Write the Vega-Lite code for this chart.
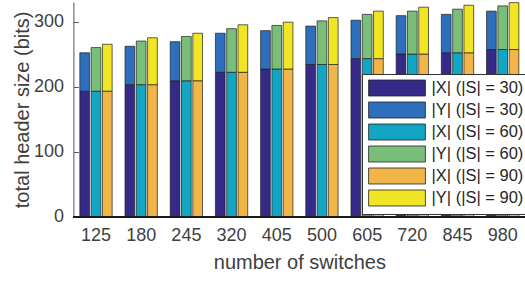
{
  "$schema": "https://vega.github.io/schema/vega-lite/v6.json",
  "autosize": "none",
  "width": 451.9,
  "height": 214.8,
  "padding": {"left": 73.4, "top": 2, "right": 0, "bottom": 65.2},
  "background": "white",
  "config": {"view": {"stroke": null}, "font": "Liberation Sans"},
  "data": {"values": [
    {"sw":125,"S":30,"part":0,"v":193,"series":"|X| (|S| = 30)"},{"sw":125,"S":30,"part":1,"v":59,"series":"|Y| (|S| = 30)"},
    {"sw":125,"S":60,"part":0,"v":193,"series":"|X| (|S| = 60)"},{"sw":125,"S":60,"part":1,"v":67,"series":"|Y| (|S| = 60)"},
    {"sw":125,"S":90,"part":0,"v":193,"series":"|X| (|S| = 90)"},{"sw":125,"S":90,"part":1,"v":72,"series":"|Y| (|S| = 90)"},
    {"sw":180,"S":30,"part":0,"v":203,"series":"|X| (|S| = 30)"},{"sw":180,"S":30,"part":1,"v":59,"series":"|Y| (|S| = 30)"},
    {"sw":180,"S":60,"part":0,"v":203,"series":"|X| (|S| = 60)"},{"sw":180,"S":60,"part":1,"v":67,"series":"|Y| (|S| = 60)"},
    {"sw":180,"S":90,"part":0,"v":203,"series":"|X| (|S| = 90)"},{"sw":180,"S":90,"part":1,"v":72,"series":"|Y| (|S| = 90)"},
    {"sw":245,"S":30,"part":0,"v":209,"series":"|X| (|S| = 30)"},{"sw":245,"S":30,"part":1,"v":60,"series":"|Y| (|S| = 30)"},
    {"sw":245,"S":60,"part":0,"v":209,"series":"|X| (|S| = 60)"},{"sw":245,"S":60,"part":1,"v":68,"series":"|Y| (|S| = 60)"},
    {"sw":245,"S":90,"part":0,"v":209,"series":"|X| (|S| = 90)"},{"sw":245,"S":90,"part":1,"v":73,"series":"|Y| (|S| = 90)"},
    {"sw":320,"S":30,"part":0,"v":222,"series":"|X| (|S| = 30)"},{"sw":320,"S":30,"part":1,"v":60,"series":"|Y| (|S| = 30)"},
    {"sw":320,"S":60,"part":0,"v":222,"series":"|X| (|S| = 60)"},{"sw":320,"S":60,"part":1,"v":67,"series":"|Y| (|S| = 60)"},
    {"sw":320,"S":90,"part":0,"v":222,"series":"|X| (|S| = 90)"},{"sw":320,"S":90,"part":1,"v":73,"series":"|Y| (|S| = 90)"},
    {"sw":405,"S":30,"part":0,"v":227,"series":"|X| (|S| = 30)"},{"sw":405,"S":30,"part":1,"v":59,"series":"|Y| (|S| = 30)"},
    {"sw":405,"S":60,"part":0,"v":227,"series":"|X| (|S| = 60)"},{"sw":405,"S":60,"part":1,"v":67,"series":"|Y| (|S| = 60)"},
    {"sw":405,"S":90,"part":0,"v":227,"series":"|X| (|S| = 90)"},{"sw":405,"S":90,"part":1,"v":72,"series":"|Y| (|S| = 90)"},
    {"sw":500,"S":30,"part":0,"v":234,"series":"|X| (|S| = 30)"},{"sw":500,"S":30,"part":1,"v":59,"series":"|Y| (|S| = 30)"},
    {"sw":500,"S":60,"part":0,"v":234,"series":"|X| (|S| = 60)"},{"sw":500,"S":60,"part":1,"v":67,"series":"|Y| (|S| = 60)"},
    {"sw":500,"S":90,"part":0,"v":234,"series":"|X| (|S| = 90)"},{"sw":500,"S":90,"part":1,"v":72,"series":"|Y| (|S| = 90)"},
    {"sw":605,"S":30,"part":0,"v":243,"series":"|X| (|S| = 30)"},{"sw":605,"S":30,"part":1,"v":59,"series":"|Y| (|S| = 30)"},
    {"sw":605,"S":60,"part":0,"v":243,"series":"|X| (|S| = 60)"},{"sw":605,"S":60,"part":1,"v":68,"series":"|Y| (|S| = 60)"},
    {"sw":605,"S":90,"part":0,"v":243,"series":"|X| (|S| = 90)"},{"sw":605,"S":90,"part":1,"v":73,"series":"|Y| (|S| = 90)"},
    {"sw":720,"S":30,"part":0,"v":250,"series":"|X| (|S| = 30)"},{"sw":720,"S":30,"part":1,"v":59,"series":"|Y| (|S| = 30)"},
    {"sw":720,"S":60,"part":0,"v":250,"series":"|X| (|S| = 60)"},{"sw":720,"S":60,"part":1,"v":66,"series":"|Y| (|S| = 60)"},
    {"sw":720,"S":90,"part":0,"v":250,"series":"|X| (|S| = 90)"},{"sw":720,"S":90,"part":1,"v":72,"series":"|Y| (|S| = 90)"},
    {"sw":845,"S":30,"part":0,"v":252,"series":"|X| (|S| = 30)"},{"sw":845,"S":30,"part":1,"v":59,"series":"|Y| (|S| = 30)"},
    {"sw":845,"S":60,"part":0,"v":252,"series":"|X| (|S| = 60)"},{"sw":845,"S":60,"part":1,"v":67,"series":"|Y| (|S| = 60)"},
    {"sw":845,"S":90,"part":0,"v":252,"series":"|X| (|S| = 90)"},{"sw":845,"S":90,"part":1,"v":73,"series":"|Y| (|S| = 90)"},
    {"sw":980,"S":30,"part":0,"v":257,"series":"|X| (|S| = 30)"},{"sw":980,"S":30,"part":1,"v":59,"series":"|Y| (|S| = 30)"},
    {"sw":980,"S":60,"part":0,"v":257,"series":"|X| (|S| = 60)"},{"sw":980,"S":60,"part":1,"v":67,"series":"|Y| (|S| = 60)"},
    {"sw":980,"S":90,"part":0,"v":257,"series":"|X| (|S| = 90)"},{"sw":980,"S":90,"part":1,"v":72,"series":"|Y| (|S| = 90)"}
  ]},
  "layer": [
    {
      "mark": {"type": "bar", "stroke": "#1e1e1e", "strokeWidth": 0.7},
      "encoding": {
        "x": {"field": "sw", "type": "ordinal", "scale": {"paddingInner": 0, "paddingOuter": 0},
          "axis": {"title": "number of switches", "labelAngle": 0, "ticks": false, "domain": false,
            "labelFontSize": 18, "labelColor": "#404040", "labelPadding": 10,
            "titleFontSize": 20, "titleFontWeight": "normal", "titleColor": "#404040", "titlePadding": 8}},
        "xOffset": {"field": "S", "type": "nominal", "scale": {"paddingInner": 0.14, "paddingOuter": 0.57}},
        "y": {"field": "v", "type": "quantitative", "stack": "zero", "scale": {"domain": [0, 330], "nice": false},
          "axis": {"title": "total header size (bits)", "values": [0, 100, 200, 300], "grid": false,
            "tickSize": -5, "labelPadding": 15, "domainColor": "#555555", "tickColor": "#555555",
            "labelFontSize": 18, "labelColor": "#404040",
            "titleFontSize": 20, "titleFontWeight": "normal", "titleColor": "#404040", "titlePadding": 1}},
        "color": {"field": "series", "type": "nominal",
          "scale": {"domain": ["|X| (|S| = 30)", "|Y| (|S| = 30)", "|X| (|S| = 60)", "|Y| (|S| = 60)", "|X| (|S| = 90)", "|Y| (|S| = 90)"],
            "range": ["#352a87", "#2e6fbd", "#12a6c2", "#7abf79", "#f2b548", "#f0e623"]},
          "legend": {"orient": "none", "legendX": 288.6, "legendY": 72, "title": null,
            "fillColor": "white", "strokeColor": "#333333", "padding": 5.5, "rowPadding": 1,
            "symbolType": "M-3.55,-1H3.55V1H-3.55Z", "symbolSize": 256, "symbolOffset": 21,
            "symbolStrokeColor": "#222222", "symbolStrokeWidth": 0.8, "symbolOpacity": 1,
            "labelOffset": 26, "labelFontSize": 16.5, "labelColor": "#262626"}},
        "order": {"field": "part", "type": "quantitative"}
      }
    },
    {
      "mark": {"type": "rule", "color": "#1a1a1a", "strokeWidth": 1},
      "encoding": {"y": {"datum": 0}}
    }
  ]
}
